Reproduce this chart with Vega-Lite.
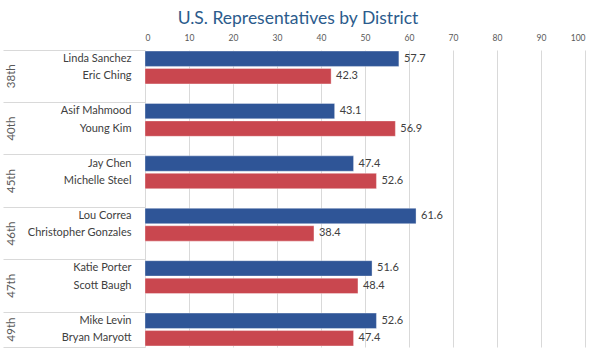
{
  "$schema": "https://vega.github.io/schema/vega-lite/v6.json",
  "autosize": {"type": "none"},
  "padding": {"left": 145, "top": 50, "right": 15, "bottom": 10},
  "width": 440,
  "height": 297,
  "background": "white",
  "title": {
    "text": "U.S. Representatives by District",
    "anchor": "middle",
    "frame": "group",
    "dx": -67,
    "offset": 6,
    "font": "Lato",
    "fontSize": 17.5,
    "fontWeight": "normal",
    "color": "#2b5b8c"
  },
  "config": {"view": {"stroke": null}},
  "data": {
    "values": [
      {"district": "38th", "name": "Linda Sanchez", "party": "D", "pct": 57.7},
      {"district": "38th", "name": "Eric Ching", "party": "R", "pct": 42.3},
      {"district": "40th", "name": "Asif Mahmood", "party": "D", "pct": 43.1},
      {"district": "40th", "name": "Young Kim", "party": "R", "pct": 56.9},
      {"district": "45th", "name": "Jay Chen", "party": "D", "pct": 47.4},
      {"district": "45th", "name": "Michelle Steel", "party": "R", "pct": 52.6},
      {"district": "46th", "name": "Lou Correa", "party": "D", "pct": 61.6},
      {"district": "46th", "name": "Christopher Gonzales", "party": "R", "pct": 38.4},
      {"district": "47th", "name": "Katie Porter", "party": "D", "pct": 51.6},
      {"district": "47th", "name": "Scott Baugh", "party": "R", "pct": 48.4},
      {"district": "49th", "name": "Mike Levin", "party": "D", "pct": 52.6},
      {"district": "49th", "name": "Bryan Maryott", "party": "R", "pct": 47.4}
    ]
  },
  "resolve": {"axis": {"y": "independent"}},
  "layer": [
    {
      "mark": {"type": "bar", "height": {"band": 0.88}, "stroke": "#ffffff", "strokeOpacity": 0.35, "strokeWidth": 1},
      "encoding": {
        "y": {
          "field": "name",
          "type": "nominal",
          "scale": {
            "domain": ["Linda Sanchez", "Eric Ching", " ", "Asif Mahmood", "Young Kim", "  ", "Jay Chen", "Michelle Steel", "   ", "Lou Correa", "Christopher Gonzales", "    ", "Katie Porter", "Scott Baugh", "     ", "Mike Levin", "Bryan Maryott"],
            "paddingInner": 0,
            "paddingOuter": 0
          },
          "axis": {
            "orient": "left",
            "title": null,
            "domain": false,
            "grid": false,
            "ticks": true,
            "bandPosition": 1,
            "tickSize": 142,
            "tickColor": "#d9d9d9",
            "tickOpacity": {"condition": {"test": "datum.value === 'Bryan Maryott'", "value": 1}, "value": 0},
            "labelPadding": -128,
            "labelAlign": "right",
            "labelBaseline": "middle",
            "labelFont": "Lato",
            "labelFontSize": 11,
            "labelColor": "#404040"
          }
        },
        "x": {
          "field": "pct",
          "type": "quantitative",
          "scale": {"domain": [0, 100], "nice": false},
          "axis": {
            "orient": "top",
            "title": null,
            "values": [0, 10, 20, 30, 40, 50, 60, 70, 80, 90, 100],
            "domain": false,
            "ticks": false,
            "grid": true,
            "gridColor": "#d9d9d9",
            "labelFont": "Lato",
            "labelFontSize": 8.5,
            "labelColor": "#595959",
            "labelPadding": 8
          }
        },
        "color": {
          "field": "party",
          "type": "nominal",
          "scale": {"domain": ["D", "R"], "range": ["#2f5597", "#c9474f"]},
          "legend": null
        }
      }
    },
    {
      "mark": {"type": "text", "align": "left", "baseline": "middle", "dx": 5, "font": "Lato", "fontSize": 11, "color": "#404040"},
      "encoding": {
        "y": {
          "field": "name",
          "type": "nominal",
          "axis": {
            "orient": "left",
            "title": null,
            "domain": false,
            "grid": false,
            "ticks": true,
            "bandPosition": 0,
            "tickSize": 142,
            "tickColor": "#d9d9d9",
            "tickOpacity": {"condition": {"test": "indexof(['Linda Sanchez','Asif Mahmood','Jay Chen','Lou Correa','Katie Porter','Mike Levin'], datum.value) >= 0", "value": 1}, "value": 0},
            "labelExpr": "datum.value === 'Eric Ching' ? '38th' : datum.value === 'Young Kim' ? '40th' : datum.value === 'Michelle Steel' ? '45th' : datum.value === 'Christopher Gonzales' ? '46th' : datum.value === 'Scott Baugh' ? '47th' : datum.value === 'Bryan Maryott' ? '49th' : ''",
            "labelAngle": 270,
            "labelAlign": "center",
            "labelBaseline": "middle",
            "labelPadding": -8,
            "labelOffset": {"condition": {"test": "datum.value === 'Bryan Maryott'", "value": -8.74}, "value": 0},
            "labelFont": "Lato",
            "labelFontSize": 11.5,
            "labelColor": "#595959"
          }
        },
        "x": {"field": "pct", "type": "quantitative"},
        "text": {"field": "pct", "type": "quantitative", "format": ".1f"}
      }
    }
  ]
}
